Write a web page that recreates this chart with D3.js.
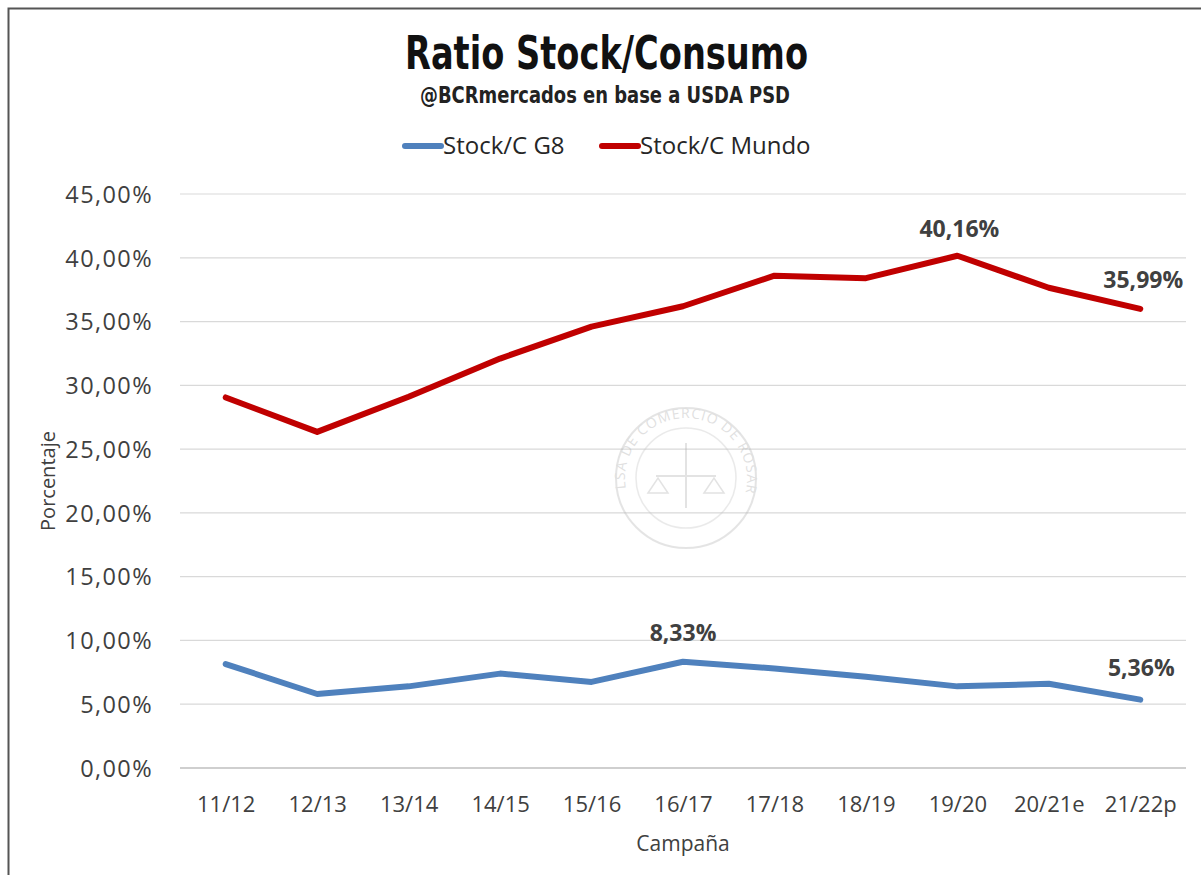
<!DOCTYPE html>
<html>
<head>
<meta charset="utf-8">
<script src="https://cdn.jsdelivr.net/npm/d3@7/dist/d3.min.js"></script>
<style>
  html, body { margin: 0; padding: 0; background: #fff; }
  svg { display: block; }
</style>
</head>
<body>
<svg id="chart" width="1201" height="875"></svg>
<script>
// ---- Data ----
const campaigns = ["11/12","12/13","13/14","14/15","15/16","16/17","17/18","18/19","19/20","20/21e","21/22p"];
const stockG8 = [8.15, 5.80, 6.40, 7.40, 6.75, 8.33, 7.80, 7.15, 6.40, 6.60, 5.36];
const stockMundo = [29.05, 26.35, 29.10, 32.10, 34.60, 36.20, 38.60, 38.40, 40.16, 37.65, 35.99];
const yTicks = [0, 5, 10, 15, 20, 25, 30, 35, 40, 45];
const seriesNames = ["Stock/C G8", "Stock/C Mundo"];
const labeledG8 = ["16/17", "21/22p"];
const labeledMundo = ["19/20", "21/22p"];

const titleText = "Ratio Stock/Consumo";
const subtitleText = "@BCRmercados en base a USDA PSD";
const xTitle = "Campaña";
const yTitle = "Porcentaje";

// ---- Layout ----
const plot = { left: 180, right: 1186, top: 194, bottom: 768 };
const colors = ["#4f81bd", "#c00000"];
const condensed = "'DejaVu Sans','Liberation Sans',sans-serif";
const bodyFont = "'Open Sans','Noto Sans',sans-serif";
const fmt = v => v.toFixed(2).replace(".", ",") + "%";

const svg = d3.select("#chart");

// frame
svg.append("rect").attr("x", 8.5).attr("y", 8.5).attr("width", 1200).attr("height", 900)
  .attr("fill", "#fff").attr("stroke", "#555").attr("stroke-width", 2);

const x = d3.scalePoint().domain(campaigns).range([plot.left, plot.right]).padding(0.5);
const y = d3.scaleLinear().domain([0, 45]).range([plot.bottom, plot.top]);

// gridlines
svg.append("g").selectAll("line").data(yTicks.filter(t => t > 0)).join("line")
  .attr("x1", plot.left).attr("x2", plot.right)
  .attr("y1", d => y(d)).attr("y2", d => y(d))
  .attr("stroke", "#d9d9d9").attr("stroke-width", 1.2);

// watermark seal
const wm = svg.append("g").attr("transform", "translate(686,478)").attr("opacity", 0.35);
wm.append("circle").attr("r", 70).attr("fill", "none").attr("stroke", "#b5b5b5").attr("stroke-width", 2);
wm.append("circle").attr("r", 50).attr("fill", "none").attr("stroke", "#c5c5c5").attr("stroke-width", 1.5);
wm.append("path").attr("id", "sealArc").attr("d", "M -60,12 A 61,61 0 1 1 60,12").attr("fill", "none");
wm.append("text").attr("font-family", bodyFont).attr("font-size", 14).attr("fill", "#a8a8a8").attr("letter-spacing", 1)
  .append("textPath").attr("href", "#sealArc").attr("startOffset", "50%").attr("text-anchor", "middle")
  .text("BOLSA DE COMERCIO DE ROSARIO");
wm.append("line").attr("x1", -30).attr("x2", 30).attr("y1", -2).attr("y2", -2).attr("stroke", "#b0b0b0").attr("stroke-width", 2);
wm.append("line").attr("x1", 0).attr("x2", 0).attr("y1", -35).attr("y2", 30).attr("stroke", "#b0b0b0").attr("stroke-width", 2);
wm.append("path").attr("d", "M -38,15 L -28,0 L -18,15 Z M 18,15 L 28,0 L 38,15 Z").attr("fill", "none").attr("stroke", "#b0b0b0").attr("stroke-width", 1.5);

// x axis line
svg.append("line").attr("x1", plot.left).attr("x2", plot.right)
  .attr("y1", y(0)).attr("y2", y(0)).attr("stroke", "#bfbfbf").attr("stroke-width", 1.5);

// y axis labels
const yAxis = d3.axisLeft(y).tickValues(yTicks).tickSize(0).tickPadding(0).tickFormat(fmt);
const gy = svg.append("g").attr("transform", "translate(153,0)").call(yAxis);
gy.select(".domain").remove();
gy.selectAll("text").attr("font-family", bodyFont).attr("font-size", 23.5).attr("fill", "#404040")
  .attr("letter-spacing", 1.4).attr("dy", "0.35em");

// x axis labels
const xAxis = d3.axisBottom(x).tickSize(0).tickPadding(0);
const gx = svg.append("g").attr("transform", `translate(0,${plot.bottom})`).call(xAxis);
gx.select(".domain").remove();
gx.selectAll("text").attr("font-family", bodyFont).attr("font-size", 22).attr("fill", "#404040")
  .attr("y", 44).attr("dy", 0);

// axis titles
svg.append("text").attr("x", (plot.left + plot.right) / 2).attr("y", 851)
  .attr("text-anchor", "middle").attr("font-family", bodyFont).attr("font-size", 21).attr("fill", "#404040")
  .text(xTitle);
svg.append("text").attr("transform", "translate(55,481) rotate(-90)")
  .attr("text-anchor", "middle").attr("font-family", bodyFont).attr("font-size", 20).attr("fill", "#404040")
  .text(yTitle);

// lines
const line = d3.line().x((d, i) => x(campaigns[i])).y(d => y(d));
[stockG8, stockMundo].forEach((vals, k) => {
  svg.append("path").datum(vals).attr("d", line)
    .attr("fill", "none").attr("stroke", colors[k]).attr("stroke-width", 6)
    .attr("stroke-linejoin", "round").attr("stroke-linecap", "round");
});

// data labels
function addLabels(vals, cats, offsets) {
  cats.forEach((c, j) => {
    const i = campaigns.indexOf(c);
    svg.append("text").attr("x", x(c) + offsets[j][0]).attr("y", y(vals[i]) + offsets[j][1])
      .attr("text-anchor", "middle").attr("font-family", bodyFont).attr("font-weight", "bold")
      .attr("font-size", 23).attr("fill", "#404040").text(fmt(vals[i]));
  });
}
addLabels(stockMundo, labeledMundo, [[2, -19], [3, -21]]);
addLabels(stockG8, labeledG8, [[0, -21], [1, -24]]);

// title (condensed by fitting to the reference width)
svg.append("text").attr("x", 405).attr("y", 69)
  .attr("font-family", condensed).attr("font-weight", "bold").attr("font-size", 47).attr("fill", "#111")
  .attr("textLength", 403).attr("lengthAdjust", "spacingAndGlyphs")
  .text(titleText);
svg.append("text").attr("x", 420).attr("y", 103)
  .attr("font-family", condensed).attr("font-weight", "bold").attr("font-size", 23).attr("fill", "#222")
  .attr("textLength", 370).attr("lengthAdjust", "spacingAndGlyphs")
  .text(subtitleText);

// legend
const legendItems = [{ x: 405, name: seriesNames[0], c: colors[0] }, { x: 602, name: seriesNames[1], c: colors[1] }];
legendItems.forEach(it => {
  svg.append("line").attr("x1", it.x).attr("x2", it.x + 36).attr("y1", 146).attr("y2", 146)
    .attr("stroke", it.c).attr("stroke-width", 6).attr("stroke-linecap", "round");
  svg.append("text").attr("x", it.x + 38).attr("y", 154).attr("font-family", bodyFont)
    .attr("font-size", 24).attr("fill", "#262626").text(it.name);
});
</script>
</body>
</html>
